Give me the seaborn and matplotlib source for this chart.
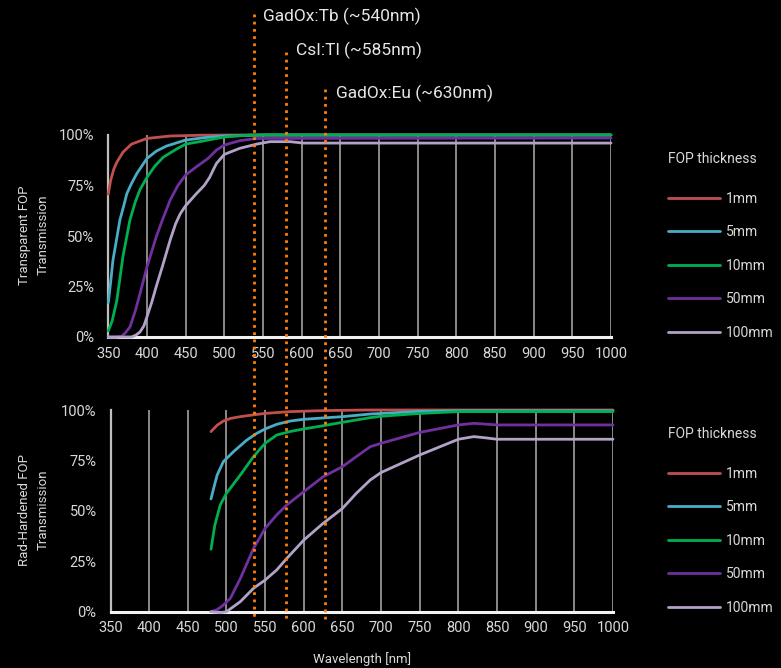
import matplotlib
matplotlib.use("Agg")
import matplotlib.pyplot as plt
import matplotlib.transforms as mtransforms
from matplotlib.lines import Line2D
import seaborn as sns
import pandas as pd

# ---------------- data ----------------
thickness = ["1mm", "5mm", "10mm", "50mm", "100mm"]
palette = ["#c0504d", "#4bacc6", "#00b050", "#7030a0", "#b3a2c7"]

# Transparent FOP (top panel)
top_1mm_x = [350, 353, 357, 361, 369, 380, 400, 430, 470, 520, 1000]
top_1mm_y = [70.7, 77.5, 83, 86.5, 91.5, 95.5, 98.3, 99.5, 99.9, 100, 100]
top_5mm_x = [350, 353, 356, 361, 365, 370, 374, 380, 387, 400, 412, 425, 450, 477, 500, 550, 1000]
top_5mm_y = [17, 27, 38, 49, 58, 65, 71, 76, 81, 88.4, 92, 94.5, 97.5, 98.8, 99.5, 100, 100]
top_10mm_x = [350, 355, 361, 365, 369, 374, 378, 385, 391, 400, 410, 421, 438, 450, 468, 500, 533, 1000]
top_10mm_y = [3, 8, 18, 29, 40, 50, 58, 67, 73, 79, 84.5, 89, 93, 95.5, 96.7, 99, 100, 100]
top_50mm_x = [350, 360, 367, 372, 378, 385, 391, 400, 412, 420, 430, 440, 450, 464, 479, 490, 500, 520, 542, 1000]
top_50mm_y = [0, 0, 0.3, 2, 5, 13, 21.5, 34.7, 49.6, 58, 67.8, 75, 80.2, 84.3, 88.4, 92.6, 95, 97.2, 98.3, 98.5]
top_100mm_x = [350, 380, 386, 391, 396, 400, 406, 412, 420, 430, 437, 443, 450, 464, 474, 481, 486, 490, 500, 520, 542, 559, 585, 602, 1000]
top_100mm_y = [0, 0, 1, 2.5, 5.5, 10, 17, 25, 35, 48, 56, 61, 65, 71, 75, 79, 83, 86, 90.4, 93.4, 95.5, 96.7, 96.7, 96, 96]

# Rad-Hardened FOP (bottom panel)
bot_1mm_x = [480, 488, 496, 505, 518, 535, 550, 582, 625, 680, 1000]
bot_1mm_y = [89.3, 92.5, 94.5, 95.8, 96.7, 97.6, 98.3, 99.2, 99.7, 100, 100]
bot_5mm_x = [480, 484, 488, 496, 509, 526, 539, 550, 565, 582, 600, 650, 686, 750, 800, 1000]
bot_5mm_y = [55.9, 62, 67.8, 74.4, 79.3, 85, 88.4, 90.6, 92.9, 94.5, 95.4, 96.7, 98, 99.3, 99.6, 99.6]
bot_10mm_x = [480, 485, 492, 500, 518, 535, 550, 565, 582, 600, 625, 650, 686, 700, 750, 800, 850, 1000]
bot_10mm_y = [31, 43, 53, 58.7, 67.8, 76.9, 83.5, 87.6, 89.3, 90.6, 92.2, 93.9, 96.2, 96.9, 98.3, 99.2, 99.2, 99.2]
bot_50mm_x = [480, 488, 496, 505, 518, 535, 550, 565, 578, 600, 625, 650, 668, 686, 700, 750, 800, 820, 835, 850, 1000]
bot_50mm_y = [0, 1, 3.3, 6.6, 16.5, 31.4, 41.3, 48, 52.9, 59.5, 66.9, 71.9, 76.9, 81.8, 83.5, 88.9, 92.6, 93.4, 93, 92.6, 92.6]
bot_100mm_x = [480, 492, 500, 518, 535, 550, 565, 578, 600, 625, 650, 668, 686, 700, 750, 800, 820, 835, 850, 1000]
bot_100mm_y = [0, -0.5, 0, 5, 11.6, 15.7, 20.7, 26.4, 35.5, 43.8, 51.2, 58.7, 65.3, 69, 77.7, 85.5, 86.8, 86.2, 85.5, 85.5]

x_ticks = [350, 400, 450, 500, 550, 600, 650, 700, 750, 800, 850, 900, 950, 1000]
y_ticks = [0, 25, 50, 75, 100]
y_tick_labels = ["0%", "25%", "50%", "75%", "100%"]

phosphor_labels = ["GadOx:Tb (~540nm)", "CsI:Tl (~585nm)", "GadOx:Eu (~630nm)"]
phosphor_lines = [539, 580, 630]


def frame(xs_list, ys_list):
    rows = []
    for name, xs, ys in zip(thickness, xs_list, ys_list):
        for x, y in zip(xs, ys):
            rows.append({"wavelength": x, "transmission": y, "thickness": name})
    return pd.DataFrame(rows)


top_df = frame([top_1mm_x, top_5mm_x, top_10mm_x, top_50mm_x, top_100mm_x],
               [top_1mm_y, top_5mm_y, top_10mm_y, top_50mm_y, top_100mm_y])
bot_df = frame([bot_1mm_x, bot_5mm_x, bot_10mm_x, bot_50mm_x, bot_100mm_x],
               [bot_1mm_y, bot_5mm_y, bot_10mm_y, bot_50mm_y, bot_100mm_y])

# ---------------- style ----------------
sns.set_theme(style="dark")
plt.rcParams["font.family"] = ["Roboto", "DejaVu Sans"]
BG = "#000000"
TXT = "#d9d9d9"
W, H = 781, 668

fig = plt.figure(figsize=(W / 100, H / 100), dpi=100, facecolor=BG)
ax_top = fig.add_axes([108.3 / W, 1 - 337 / H, (611 - 108.3) / W, (337 - 135) / H])
ax_bot = fig.add_axes([110.5 / W, 1 - 611.7 / H, (613 - 110.5) / W, (611.7 - 410) / H])

for ax, df, ylab, ycen, title_y in [
    (ax_top, top_df, "Transparent FOP\nTransmission", 235, 159),
    (ax_bot, bot_df, "Rad-Hardened FOP\nTransmission", 510, 434),
]:
    ax.set_facecolor(BG)
    for x in x_ticks[1:]:
        ax.axvline(x, color="#8a8a8a", lw=1.4, zorder=1)
    sns.lineplot(data=df, x="wavelength", y="transmission", hue="thickness",
                 hue_order=thickness, palette=palette, sort=False,
                 estimator=None, lw=2.0, ax=ax, zorder=3, clip_on=False,
                 legend=True)
    ax.set_xlim(350, 1000)
    ax.set_ylim(0, 100)
    ax.set_xticks(x_ticks)
    ax.set_xticklabels([str(v) for v in x_ticks])
    ax.set_yticks(y_ticks)
    ax.set_yticklabels(y_tick_labels)
    ax.tick_params(axis="both", colors=TXT, labelsize=10.5, length=0)
    ax.tick_params(axis="x", pad=7)
    ax.tick_params(axis="y", pad=10)
    ax.grid(False)
    for s in ["top", "right"]:
        ax.spines[s].set_visible(False)
    ax.spines["left"].set_color("#bfbfbf")
    ax.spines["left"].set_linewidth(1.6)
    ax.spines["bottom"].set_color("#f2f2f2")
    ax.spines["bottom"].set_linewidth(2.2)
    ax.set_xlabel("")
    ax.set_ylabel(ylab, color=TXT, fontsize=9.5, linespacing=1.55)
    ax.yaxis.set_label_coords(33.5 / W, 1 - ycen / H, transform=fig.transFigure)
    ax.yaxis.label.set_va("center")
    ax.yaxis.label.set_ha("center")

    handles, labels = ax.get_legend_handles_labels()
    for h in handles:
        h.set_linewidth(2.0)
    leg = ax.legend(handles, labels, frameon=False,
                    loc="upper left",
                    bbox_to_anchor=(668 / W, 1 - (title_y + 32.5) / H),
                    bbox_transform=fig.transFigure,
                    borderpad=0, borderaxespad=0,
                    fontsize=10,
                    handlelength=3.74, handletextpad=0.43,
                    labelspacing=1.41)
    for t in leg.get_texts():
        t.set_color(TXT)
    fig.text(668 / W, 1 - title_y / H, "FOP thickness", color=TXT,
             fontsize=10, ha="left", va="center")

ax_bot.set_xlabel("Wavelength [nm]", color=TXT, fontsize=9.5, labelpad=12)

# phosphor emission markers spanning the figure
trans = mtransforms.blended_transform_factory(ax_top.transData, fig.transFigure)
tops_px = [14, 52, 89]
text_px = [(263, 16), (296, 50), (336, 93)]
for xv, tp, (tx, ty), lab in zip(phosphor_lines, tops_px, text_px, phosphor_labels):
    fig.add_artist(Line2D([xv, xv], [1 - tp / H, 1 - 620 / H], transform=trans,
                          color="#ff7f0e", lw=2.0, linestyle=(0, (1, 1.6)),
                          zorder=10))
    fig.text(tx / W, 1 - ty / H, lab, color="#e6e6e6", fontsize=12.5,
             ha="left", va="center")

fig.savefig("out.png", dpi=100, facecolor=BG)
